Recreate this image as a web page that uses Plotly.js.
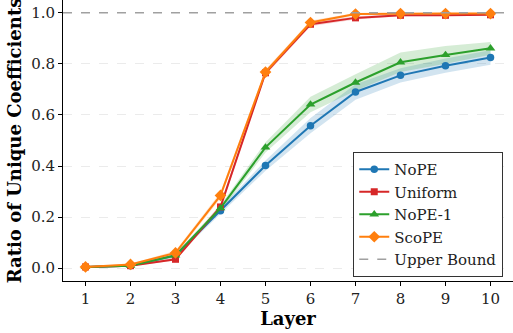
<!DOCTYPE html>
<html><head><meta charset="utf-8">
<script src="https://cdn.plot.ly/plotly-3.0.1.min.js"></script>
<style>html,body{margin:0;padding:0;background:#fff}#chart{width:513px;height:333px}</style>
</head><body><div id="chart"></div>
<script>
const layers = [1,2,3,4,5,6,7,8,9,10];
const nope     = [0.005,0.010,0.050,0.225,0.402,0.558,0.690,0.755,0.793,0.825];
const nopeStd  = [0.002,0.003,0.008,0.012,0.020,0.030,0.030,0.028,0.028,0.028];
const uniform  = [0.005,0.010,0.035,0.240,0.765,0.955,0.980,0.990,0.990,0.992];
const uniformStd=[0.002,0.002,0.005,0.010,0.010,0.008,0.006,0.004,0.004,0.004];
const nope1    = [0.005,0.010,0.050,0.235,0.473,0.641,0.727,0.806,0.835,0.861];
const nope1Std = [0.002,0.003,0.008,0.012,0.020,0.030,0.032,0.038,0.035,0.025];
const scope    = [0.005,0.015,0.060,0.285,0.768,0.962,0.995,0.997,0.997,0.997];
const scopeStd = [0.002,0.003,0.008,0.012,0.010,0.008,0.004,0.003,0.003,0.003];
const upperBound = 1.0;

const series = [
  {name:'NoPE', y:nope, s:nopeStd, color:'#1f77b4', fill:'rgba(31,119,180,0.2)', symbol:'circle', size:7.5},
  {name:'Uniform', y:uniform, s:uniformStd, color:'#d62728', fill:'rgba(214,39,40,0.2)', symbol:'square', size:7},
  {name:'NoPE-1', y:nope1, s:nope1Std, color:'#2ca02c', fill:'rgba(44,160,44,0.2)', symbol:'triangle-up', size:8.5},
  {name:'ScoPE', y:scope, s:scopeStd, color:'#ff7f0e', fill:'rgba(255,127,14,0.2)', symbol:'diamond', size:9}
];
const traces = [];
series.forEach(sr => {
  const up = sr.y.map((v,i)=>v+sr.s[i]);
  const lo = sr.y.map((v,i)=>v-sr.s[i]);
  traces.push({x:layers.concat(layers.slice().reverse()), y:up.concat(lo.slice().reverse()),
    fill:'toself', fillcolor:sr.fill, line:{width:0}, mode:'lines', hoverinfo:'skip', showlegend:false});
});
series.forEach(sr => {
  traces.push({x:layers, y:sr.y, name:sr.name, mode:'lines+markers',
    line:{color:sr.color, width:2}, marker:{symbol:sr.symbol, size:sr.size, color:sr.color}});
});
traces.push({x:[0.5,10.5], y:[upperBound,upperBound], name:'Upper Bound', mode:'lines',
  line:{color:'#a0a0a0', width:1.3, dash:'dash'}});

const ff = 'DejaVu Serif, serif';
Plotly.newPlot('chart', traces, {
  width:513, height:333,
  margin:{l:63, r:0, t:0, b:52},
  paper_bgcolor:'#fff', plot_bgcolor:'#fff',
  font:{family:ff, size:14, color:'#222'},
  showlegend:true,
  legend:{x:0.645, y:0.459, xanchor:'left', yanchor:'top', bgcolor:'#fff',
    bordercolor:'#333', borderwidth:1, font:{family:ff, size:15, color:'#222'},
    tracegroupgap:0, itemwidth:30},
  xaxis:{range:[0.5,10.5], tickvals:layers, ticktext:layers.map(String), showgrid:false, zeroline:false,
    showline:true, linecolor:'#000', linewidth:1, ticks:'outside', ticklen:4, tickcolor:'#000',
    tickfont:{family:ff, size:15, color:'#222'},
    title:{text:'<b>Layer</b>', font:{family:ff, size:18, color:'#000'}, standoff:4}},
  yaxis:{range:[-0.05,1.05], tickvals:[0,0.2,0.4,0.6,0.8,1.0], ticktext:['0.0','0.2','0.4','0.6','0.8','1.0'],
    showgrid:true, gridcolor:'#e6e6e6', griddash:'dash', gridwidth:0.8, zeroline:false,
    showline:true, linecolor:'#000', linewidth:1, ticks:'outside', ticklen:4, tickcolor:'#000',
    tickfont:{family:ff, size:15, color:'#222'},
    title:{text:'<b>Ratio of Unique Coefficients</b>', font:{family:ff, size:18, color:'#000'}, standoff:4}}
}, {displayModeBar:false, staticPlot:true});
</script></body></html>
